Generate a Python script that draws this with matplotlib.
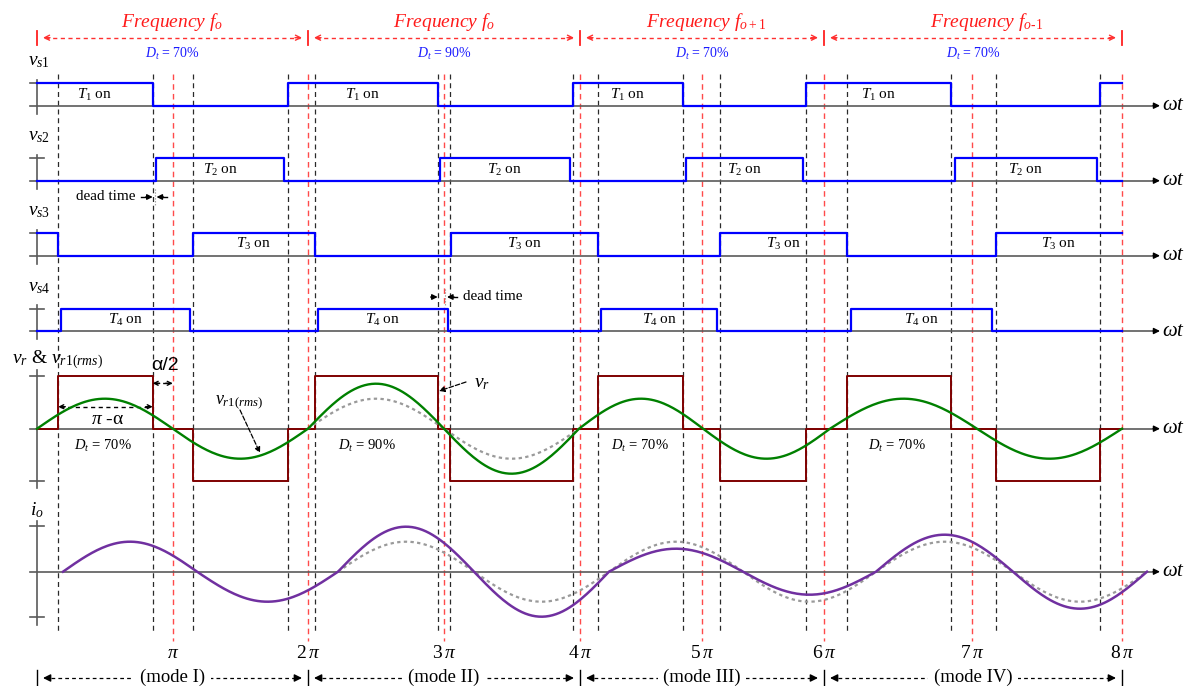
import numpy as np
import matplotlib.pyplot as plt

plt.rcParams['font.family'] = ['Liberation Serif', 'DejaVu Serif']
plt.rcParams['mathtext.fontset'] = 'custom'
plt.rcParams['mathtext.rm'] = 'Liberation Serif'
plt.rcParams['mathtext.it'] = 'Liberation Serif:italic'
plt.rcParams['mathtext.bf'] = 'Liberation Serif:bold'

# ---- data: time positions ----
t_start, t_stop = 37, 1122

pi_pos = [172.7, 308.3, 444.3, 579.7, 702, 824, 972, 1122.3]
pi_text = [r'$\pi$', r'$2\,\pi$', r'$3\,\pi$', r'$4\,\pi$',
           r'$5\,\pi$', r'$6\,\pi$', r'$7\,\pi$', r'$8\,\pi$']

switch_pos = [57.7, 152.7, 193, 288.3, 315, 437.7, 450.3, 573, 598.3,
              683, 720.3, 805.7, 846.7, 951, 996, 1100]

mode_edges = [37, 308, 580, 824, 1122]
mode_text = ['(mode I)', '(mode II)', '(mode III)', '(mode IV)']
freq_text = [r'Frequency $f_o$', r'Frequency $f_o$',
             r'Frequency $f_{o+1}$', r'Frequency $f_{o\text{-}1}$']
duty = ['70%', '90%', '70%', '70%']

vs1_on = [(37, 152.7), (288.3, 437.7), (573, 683), (805.7, 951), (1100, 1122)]
vs2_on = [(156, 284.3), (440.3, 569.7), (686, 802.7), (954.7, 1096.7)]
vs3_on = [(37, 58), (193, 315), (450.7, 598.3), (720, 846.7), (996, 1122)]
vs4_on = [(60.7, 189.7), (318.3, 447.7), (601, 717.3), (850.7, 992)]

vr_pos = [(57.7, 152.7), (315, 437.7), (598.3, 683), (846.7, 951)]
vr_neg = [(193, 288.3), (450.3, 573), (720.3, 805.7), (996, 1100)]

vr1_zero = [37, 172.7, 308, 444, 579, 703, 830, 977, 1122]
vr1_amp = [30, 30, 45, 45, 30, 30, 30, 30]

io_zero = [63, 197, 338, 474, 609, 743, 876, 1013, 1147]
io_amp = [30, 30, 45, 45, 23, 23, 37, 37]
ref_amp = 30

# row layout
vs_base = [105.7, 180.7, 255.7, 331]
vs_high = 22.5
vs_names = [r'$v_{s1}$', r'$v_{s2}$', r'$v_{s3}$', r'$v_{s4}$']
vs_on_text = [r'$T_1$ on', r'$T_2$ on', r'$T_3$ on', r'$T_4$ on']
vr_base, vr_high = 428.7, 52.7
io_base, io_tick = 571.7, 45.5

GRAY = '#5a5a5a'
BLUE = '#0000ff'
DRED = '#7f0000'
GREEN = '#008000'
PURPLE = '#7030a0'


def step_xy(on, base, h):
    xs, ys = [t_start], [base]
    for a, b in on:
        if a <= t_start:
            xs, ys = [a], [base - h]
        else:
            xs += [a, a]
            ys += [base, base - h]
        if b < t_stop:
            xs += [b, b]
            ys += [base - h, base]
        else:
            xs += [b]
            ys += [base - h]
    if xs[-1] < t_stop:
        xs.append(t_stop)
        ys.append(base)
    return xs, ys


def halfsines(zeros, amps, base):
    xs, ys = [], []
    for i, (a, b) in enumerate(zip(zeros[:-1], zeros[1:])):
        t = np.linspace(a, b, 80)
        s = 1 if i % 2 == 0 else -1
        xs.append(t)
        ys.append(base - s * amps[i] * np.sin(np.pi * (t - a) / (b - a)))
    return np.concatenate(xs), np.concatenate(ys)


def head(ax, x, y, direction, color='black', filled=True, size=9):
    style = '-|>' if filled else '->'
    ax.annotate('', xy=(x, y), xytext=(x - direction * 7, y),
                arrowprops=dict(arrowstyle=style, color=color, lw=1,
                                mutation_scale=size, shrinkA=0, shrinkB=0))


def dashed_double(ax, x0, x1, y, color, filled, lw=1.0, size=9):
    ax.plot([x0 + 2, x1 - 2], [y, y], color=color, lw=lw, ls=(0, (3, 2.5)))
    head(ax, x0, y, -1, color, filled, size)
    head(ax, x1, y, 1, color, filled, size)


fig = plt.figure(figsize=(11.84, 6.86), dpi=100)
ax = fig.add_axes([0, 0, 1, 1])
ax.set_xlim(0, 1184)
ax.set_ylim(686, 0)
ax.axis('off')

# vertical guide lines
for x in switch_pos:
    ax.plot([x, x], [74, 632], color='#2a2a2a', lw=0.9, ls=(0, (4, 3)), zorder=1)
for x in pi_pos:
    ax.plot([x, x], [74, 641], color='#ff2a2a', lw=1.0, ls=(0, (4, 3)), alpha=0.85, zorder=1)


def row_axis(base, top, bottom, ticks):
    ax.plot([30, 1152], [base, base], color=GRAY, lw=1.2, zorder=2)
    head(ax, 1160, base, 1, 'black', True, 9)
    ax.plot([37, 37], [top, bottom], color=GRAY, lw=1.2, zorder=2)
    for yt in ticks:
        ax.plot([30, 44], [yt, yt], color=GRAY, lw=1.2, zorder=2)
    ax.text(1162, base, r'$\omega t$', fontsize=15, ha='left', va='center')


# switching signals
for k in range(4):
    b = vs_base[k]
    row_axis(b, b - 26, b + 8, [b - vs_high])
    on = [vs1_on, vs2_on, vs3_on, vs4_on][k]
    xs, ys = step_xy(on, b, vs_high)
    ax.plot(xs, ys, color=BLUE, lw=1.6, zorder=3)
    ax.text(28, b - 44, vs_names[k], fontsize=14, ha='left', va='center')
    for a, e in on:
        if e - a > 60:
            ax.text((a + e) / 2, b - vs_high / 2, vs_on_text[k], fontsize=11,
                    ha='center', va='center', zorder=4)

# v_r row
row_axis(vr_base, 370, 488, [vr_base - vr_high, vr_base + vr_high])
segs = sorted([(a, e, 1) for a, e in vr_pos] + [(a, e, -1) for a, e in vr_neg])
xs, ys = [t_start], [vr_base]
for a, e, s in segs:
    xs += [a, a, e, e]
    ys += [vr_base, vr_base - s * vr_high, vr_base - s * vr_high, vr_base]
xs.append(t_stop)
ys.append(vr_base)
ax.plot(xs, ys, color=DRED, lw=1.4, zorder=3)

gx, gy = halfsines(vr1_zero[2:5], [ref_amp, ref_amp], vr_base)
ax.plot(gx, gy, color='#9a9a9a', lw=1.6, ls=(0, (1.5, 1.5)), zorder=3)
gx, gy = halfsines(vr1_zero, vr1_amp, vr_base)
ax.plot(gx, gy, color=GREEN, lw=1.7, zorder=3.5)

ax.text(12, 360, r'$v_r$ & $v_{r1(rms)}$', fontsize=14, ha='left', va='center')
ax.text(165, 366, 'α/2', fontsize=14, family='Liberation Sans', ha='center', va='center')
dashed_double(ax, 152.7, 172.7, 383.3, 'black', False, size=7)
dashed_double(ax, 58.3, 152.7, 406.7, 'black', False, size=7)
ax.text(107, 420, r'$\pi$ -α', fontsize=14, ha='center', va='center')
for xc, d in zip([103, 367, 640, 897], duty):
    ax.text(xc, 446, r'$D_t$ = ' + d, fontsize=10.5, ha='center', va='center')
ax.text(239, 402, r'$v_{r1(rms)}$', fontsize=13, ha='center', va='center')
ax.annotate('', xy=(260, 453), xytext=(240, 410),
            arrowprops=dict(arrowstyle='-|>', color='black', lw=0.9, ls='--',
                            mutation_scale=8, shrinkA=0, shrinkB=0))
ax.text(482, 384, r'$v_r$', fontsize=14, ha='center', va='center')
ax.annotate('', xy=(439, 391), xytext=(466, 382),
            arrowprops=dict(arrowstyle='-|>', color='black', lw=0.9, ls='--',
                            mutation_scale=8, shrinkA=0, shrinkB=0))

# i_o row
row_axis(io_base, 521, 625, [io_base - io_tick, io_base + io_tick])
gx, gy = halfsines(io_zero[2:], [ref_amp] * 6, io_base)
ax.plot(gx, gy, color='#9a9a9a', lw=1.6, ls=(0, (1.5, 1.5)), zorder=3)
gx, gy = halfsines(io_zero, io_amp, io_base)
ax.plot(gx, gy, color=PURPLE, lw=1.8, zorder=3.5)
ax.text(37, 510, r'$i_o$', fontsize=14, ha='center', va='center')

# dead time marks
ax.text(136, 197, 'dead time', fontsize=11, ha='right', va='center')
head(ax, 152.7, 197, 1, 'black', True, 8)
head(ax, 156.5, 197, -1, 'black', True, 8)
ax.plot([141, 146], [197, 197], color='black', lw=1)
ax.plot([163, 167], [197, 197], color='black', lw=1)
ax.plot([155, 155], [189, 205], color='#888888', lw=0.8, ls=':')
ax.text(463, 297, 'dead time', fontsize=11, ha='left', va='center')
head(ax, 437.7, 297, 1, 'black', True, 8)
head(ax, 447, 297, -1, 'black', True, 8)
ax.plot([432, 431], [297, 297], color='black', lw=1)
ax.plot([453, 457], [297, 297], color='black', lw=1)
ax.plot([445, 445], [289, 305], color='#888888', lw=0.8, ls=':')

# frequency row on top
for x in mode_edges:
    ax.plot([x, x], [31, 45], color='#ff2020', lw=1.3)
for k in range(4):
    a, e = mode_edges[k], mode_edges[k + 1]
    dashed_double(ax, a + 6, e - 6, 37.7, '#ff3030', False, size=9)
    xc = (a + e) / 2
    ax.text(xc + [0, 0, 4, 14][k], 22, freq_text[k], fontsize=14, color='#ff1a1a',
            style='italic', ha='center', va='center')
    ax.text(xc, 54, r'$D_t$ = ' + duty[k], fontsize=10, color='#1a1aff',
            ha='center', va='center')

# pi labels and mode row
for x, s in zip(pi_pos, pi_text):
    ax.text(x, 653, s, fontsize=14, ha='center', va='center')
for x in mode_edges:
    ax.plot([x, x], [670, 686], color='black', lw=1)
for k in range(4):
    a, e = mode_edges[k], mode_edges[k + 1]
    ax.plot([a + 14, e - 14], [678, 678], color='black', lw=0.9, ls=(0, (3, 2.5)))
    head(ax, a + 6, 678, -1, 'black', True, 11)
    head(ax, e - 6, 678, 1, 'black', True, 11)
    ax.text((a + e) / 2, 677, mode_text[k], fontsize=13.5, ha='center', va='center',
            bbox=dict(facecolor='white', edgecolor='none', pad=4))

fig.savefig('out.png', dpi=100)
